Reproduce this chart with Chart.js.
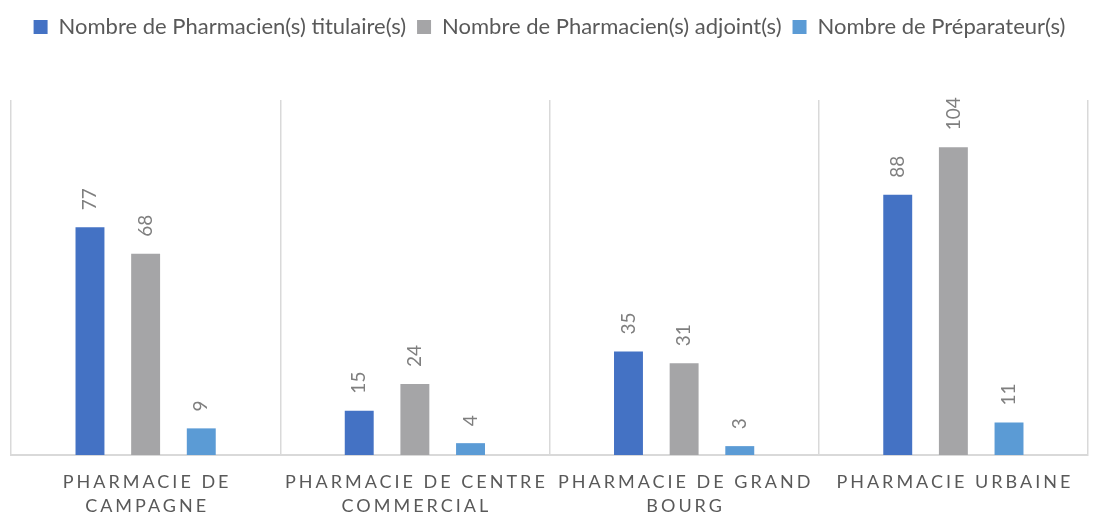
<!DOCTYPE html>
<html>
<head>
<meta charset="utf-8">
<script src="https://cdn.jsdelivr.net/npm/chart.js@4.4.0/dist/chart.umd.min.js"></script>
<style>
  html, body { margin: 0; padding: 0; background: #fff; }
  #wrap { width: 1093px; height: 516px; }
</style>
</head>
<body>
<div id="wrap"><canvas id="myChart"></canvas></div>
<script>
  const categories = [
    ["PHARMACIE DE", "CAMPAGNE"],
    ["PHARMACIE DE CENTRE", "COMMERCIAL"],
    ["PHARMACIE DE GRAND", "BOURG"],
    ["PHARMACIE URBAINE"],
  ]
  const titulaires = [77, 15, 35, 88]
  const adjoints = [68, 24, 31, 104]
  const preparateurs = [9, 4, 3, 11]

  const ctx = document.getElementById("myChart")

  // legend keeps the area above the plot
  const legendHeight = {
    id: "legendHeight",
    beforeInit(chart) {
      const fit = chart.legend.fit
      chart.legend.fit = function () {
        fit.bind(chart.legend)()
        this.height = 95
      }
    },
  }

  // rotated value labels above the bars
  const valueLabels = {
    id: "valueLabels",
    afterDatasetsDraw(chart) {
      const c = chart.ctx
      c.save()
      c.font = "19px Lato"
      c.fillStyle = "#7f7f7f"
      c.textAlign = "left"
      c.textBaseline = "middle"
      chart.data.datasets.forEach((ds, i) => {
        chart.getDatasetMeta(i).data.forEach((bar, j) => {
          c.save()
          c.translate(bar.x, bar.y - 17)
          c.rotate(-Math.PI / 2)
          c.fillText(String(ds.data[j]), 0, 0)
          c.restore()
        })
      })
      c.restore()
    },
  }

  // category labels with letter spacing
  const xLabels = {
    id: "xLabels",
    afterDraw(chart) {
      const c = chart.ctx
      const x = chart.scales.x
      const sp = 3
      c.save()
      c.font = "18px Lato"
      c.letterSpacing = sp + "px"
      c.fillStyle = "#595959"
      c.textAlign = "left"
      c.textBaseline = "middle"
      categories.forEach((lines, i) => {
        const cx = x.getPixelForValue(i)
        lines.forEach((t, k) => {
          const w = c.measureText(t).width - sp
          c.fillText(t, cx - w / 2, x.bottom - 34 + k * 24)
        })
      })
      c.restore()
    },
  }

  new Chart(ctx, {
    type: "bar",
    data: {
      labels: categories.map((l) => l.join(" ")),
      datasets: [
        {
          label: "Nombre de Pharmacien(s) titulaire(s)",
          data: titulaires,
          backgroundColor: "#4472C4",
        },
        {
          label: "Nombre de Pharmacien(s) adjoint(s)",
          data: adjoints,
          backgroundColor: "#A5A5A7",
        },
        {
          label: "Nombre de Préparateur(s)",
          data: preparateurs,
          backgroundColor: "#5B9BD5",
        },
      ],
    },
    options: {
      responsive: true,
      maintainAspectRatio: false,
      animation: false,
      devicePixelRatio: 1,
      barPercentage: 0.52,
      categoryPercentage: 0.62,
      layout: { padding: { top: 5, left: 11, right: 5, bottom: 0 } },
      scales: {
        x: {
          grid: { color: "#d9d9d9", lineWidth: 1.5, drawTicks: false, offset: true },
          border: { display: true, color: "#d9d9d9", width: 2 },
          ticks: { display: false },
          afterFit(scale) {
            scale.height = 61
          },
        },
        y: {
          display: false,
          min: 0,
          max: 120,
        },
      },
      plugins: {
        legend: {
          position: "top",
          labels: {
            boxWidth: 14,
            boxHeight: 14,
            padding: 11,
            color: "#595959",
            font: { family: "Lato", size: 22 },
          },
        },
        tooltip: { enabled: false },
      },
    },
    plugins: [legendHeight, valueLabels, xLabels],
  })
</script>
</body>
</html>
